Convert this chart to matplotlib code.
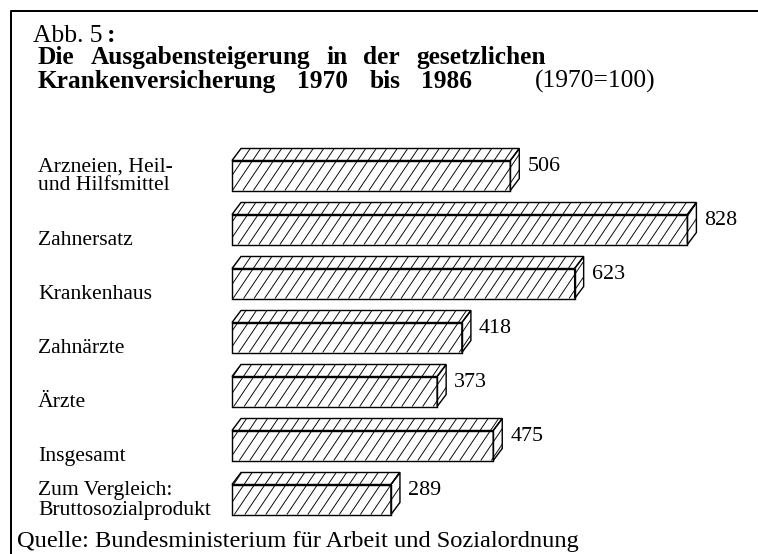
import numpy as np
import matplotlib
matplotlib.use("Agg")
import matplotlib.pyplot as plt
from matplotlib.patches import Polygon
from matplotlib.lines import Line2D
from matplotlib.collections import LineCollection
import matplotlib.transforms as mtransforms

# --- data ---
categories = [
    "Arzneien, Heil-\nund Hilfsmittel",
    "Zahnersatz",
    "Krankenhaus",
    "Zahnärzte",
    "Ärzte",
    "Insgesamt",
    "Zum Vergleich:\nBruttosozialprodukt",
]
values = [506, 828, 623, 418, 373, 475, 289]

title_number = "Abb. 5"
title_lines = ["Die Ausgabensteigerung in der gesetzlichen",
               "Krankenversicherung 1970 bis 1986"]
title_note = "(1970=100)"
source = "Quelle: Bundesministerium für Arbeit und Sozialordnung"

# --- layout ---
W, H, DPI = 758, 554, 120
plt.rcParams['font.family'] = ['Liberation Serif', 'DejaVu Serif']


def fx(x):
    return x / W


def fy(y):
    return 1 - y / H


fig = plt.figure(figsize=(W / DPI, H / DPI), dpi=DPI)
ax = fig.add_axes([0, 0, 1, 1])
renderer = fig.canvas.get_renderer()

# value 0 sits at x=232 px, 0.55 px per unit; bar i centred at 175.5 + 54*i px
x0_px, px_per_unit = 232, 0.55
row0_px, row_px = 175.5, 54
ax.set_xlim(-x0_px / px_per_unit, (W - x0_px) / px_per_unit)
ax.set_ylim((H - row0_px) / row_px, -row0_px / row_px)
ax.axis('off')

bar_h = 30 / row_px
dx = 9 / px_per_unit
dy = 12 / row_px

# hatching: steep "/" lines, ~10.5 px apart, about 56 degrees
hatch_step = 10.5 / px_per_unit
hatch_run = row_px / (np.tan(np.radians(56)) * px_per_unit)  # x shift per row unit


def hatch_face(patch, pts):
    pts = np.asarray(pts)
    ylo, yhi = pts[:, 1].min(), pts[:, 1].max()
    xlo, xhi = pts[:, 0].min(), pts[:, 0].max()
    # line k: x = k*step - y*run
    k0 = np.floor((xlo + yhi * hatch_run) / hatch_step) - 1
    k1 = np.ceil((xhi + ylo * hatch_run) / hatch_step) + 1
    segs = [[(k * hatch_step - ylo * hatch_run, ylo),
             (k * hatch_step - yhi * hatch_run, yhi)]
            for k in np.arange(k0, k1 + 1)]
    lc = LineCollection(segs, colors='black', linewidths=0.55, zorder=2)
    ax.add_collection(lc)
    lc.set_clip_path(patch)


for i, v in enumerate(values):
    top = i - bar_h / 2
    bot = i + bar_h / 2
    faces = [
        [(0, top), (v, top), (v, bot), (0, bot)],
        [(0, top), (dx, top - dy), (v + dx, top - dy), (v, top)],
        [(v, top), (v + dx, top - dy), (v + dx, bot - dy), (v, bot)],
    ]
    for f in faces:
        p = Polygon(f, closed=True, facecolor='white', edgecolor='none',
                    zorder=1)
        ax.add_patch(p)
        hatch_face(p, f)
        ax.add_patch(Polygon(f, closed=True, facecolor='none',
                             edgecolor='black', lw=0.85, zorder=3))
    ax.text(v + dx + 8 / px_per_unit, top + 6 / row_px, str(v),
            fontsize=13.2, va='center', ha='left')

# category labels: x in figure coords, y in data coords
lab_tf = mtransforms.blended_transform_factory(fig.transFigure, ax.transData)
for i, c in enumerate(categories):
    off = 1 if '\n' in c else 11
    ax.text(fx(38), i + off / row_px, c, transform=lab_tf, fontsize=13,
            va='center', ha='left', linespacing=1.0)


def spaced(items, x_left, gap, y):
    # items: (text, fontsize, weight); fixed wide gap between words
    x = x_left
    for s, fs, fw in items:
        a = fig.text(fx(x), fy(y), s, fontsize=fs, fontweight=fw,
                     va='baseline')
        x += a.get_window_extent(renderer).width + gap


# title block
t = fig.text(fx(33), fy(42), title_number, fontsize=15.3, va='baseline')
bb = t.get_window_extent(renderer)
fig.text(bb.x1 / W + fx(4), fy(42), ":", fontsize=15.3, va='baseline',
         fontweight='bold')

spaced([(w, 15.2, 'bold') for w in title_lines[0].split()], 38, 16, 64)
spaced([(w, 15.2, 'bold') for w in title_lines[1].split()], 38, 21, 88)
fig.text(fx(656), fy(88), title_note, fontsize=15.3, va='baseline',
         ha='right')

fig.text(fx(17), fy(547), source, fontsize=14.6, va='baseline')

# frame: left and top edge only
fig.add_artist(Line2D([fx(11), fx(11), 1], [0, fy(11), fy(11)],
                      transform=fig.transFigure, color='black', lw=1.2))

fig.savefig('out.png', dpi=DPI)
